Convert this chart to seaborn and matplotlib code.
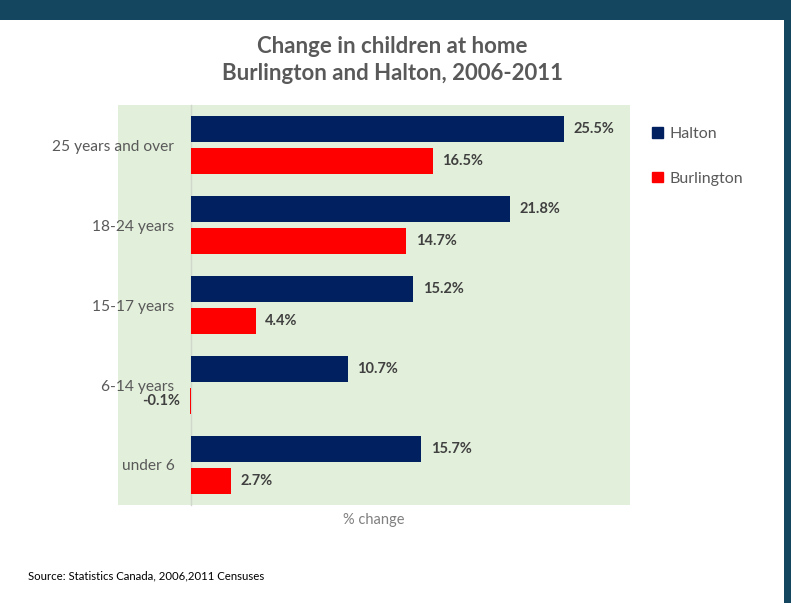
import matplotlib
matplotlib.use("Agg")
import matplotlib.pyplot as plt
import matplotlib.patches as mpatches
import pandas as pd
import seaborn as sns

sns.set_theme(style="white")
plt.rcParams['font.family'] = ['Lato', 'DejaVu Sans']

# data
age_groups = ["25 years and over", "18-24 years", "15-17 years", "6-14 years", "under 6"]
halton = [25.5, 21.8, 15.2, 10.7, 15.7]
burlington = [16.5, 14.7, 4.4, -0.1, 2.7]
areas = ["Halton", "Burlington"]
colors = ["#002060", "#ff0000"]

df = pd.DataFrame({
    "age": age_groups * 2,
    "area": ["Halton"] * len(age_groups) + ["Burlington"] * len(age_groups),
    "pct": halton + burlington,
})

fig = plt.figure(figsize=(7.91, 6.03), dpi=100)
fig.patch.set_facecolor("white")

# slide frame: dark band on top and right
fig.patches.append(mpatches.Rectangle((0, 1 - 20 / 603), 1, 20 / 603, transform=fig.transFigure,
                                      facecolor="#154660", edgecolor="none", zorder=0))
fig.patches.append(mpatches.Rectangle((784 / 791, 0), 7 / 791, 1, transform=fig.transFigure,
                                      facecolor="#154660", edgecolor="none", zorder=0))

ax = fig.add_axes([118 / 791, 1 - 505 / 603, 512 / 791, 400 / 603])
ax.set_facecolor("#e2efda")

sns.barplot(data=df, y="age", x="pct", hue="area", order=age_groups, hue_order=areas,
            palette=colors, orient="h", width=0.8, gap=0.2, saturation=1,
            linewidth=0, legend=False, ax=ax, zorder=3)

ax.set_xlim(-5, 30)
for c in ax.containers:
    ax.bar_label(c, fmt="%.1f%%", padding=7, fontsize=10.5, fontweight="bold", color="#404040")

for s in ["top", "right", "bottom"]:
    ax.spines[s].set_visible(False)
ax.spines["left"].set_position(("data", 0))
ax.spines["left"].set_color("#d0d8cc")
ax.spines["left"].set_linewidth(1)
ax.spines["left"].set_zorder(1)
ax.tick_params(axis="y", length=0, pad=12, labelsize=11.2, labelcolor="#595959")
ax.tick_params(axis="x", length=0, labelbottom=False)
ax.set_ylabel("")
ax.set_xlabel("% change", fontsize=10.5, color="#808080", labelpad=6)

handles = [mpatches.Patch(color=col, label=lab) for col, lab in zip(colors, areas)]
fig.legend(handles=handles, loc="upper left", bbox_to_anchor=(638 / 791, 1 - 113 / 603),
           frameon=False, fontsize=11.5, labelcolor="#595959", handlelength=0.65,
           handleheight=0.65, handletextpad=0.45, labelspacing=1.9)

fig.text(392 / 791, 1 - 60 / 603, "Change in children at home\nBurlington and Halton, 2006-2011",
         ha="center", va="center", fontsize=16, fontweight="bold", color="#595959",
         linespacing=1.35)
fig.text(28 / 791, 1 - 576 / 603, "Source: Statistics Canada, 2006,2011 Censuses",
         ha="left", va="center", fontsize=8.2, color="black")

fig.savefig("out.png", dpi=100)
